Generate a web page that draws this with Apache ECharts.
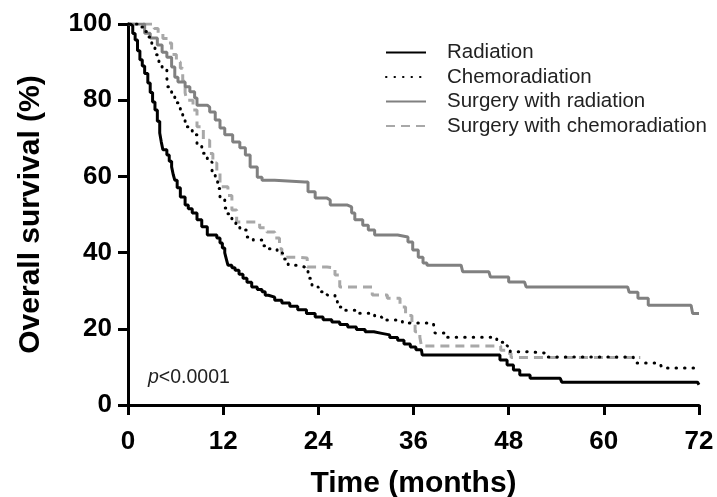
<!DOCTYPE html>
<html>
<head>
<meta charset="utf-8">
<script src="https://cdn.jsdelivr.net/npm/echarts@6/dist/echarts.min.js"></script>
<style>
html,body{margin:0;padding:0;background:#fff;}
#chart{width:717px;height:497px;}
</style>
</head>
<body>
<div id="chart"></div>
<script>
// Series names
const seriesNames = ['Radiation', 'Chemoradiation', 'Surgery with radiation', 'Surgery with chemoradiation'];
// X axis ticks (months) and Y axis ticks (%)
const xTicks = [0, 12, 24, 36, 48, 60, 72];
const yTicks = [0, 20, 40, 60, 80, 100];

// Kaplan-Meier steps: [month, survival % after the step]
const radiation = [[0,100],[0.3,99.5],[0.6,97.5],[0.9,95.8],[1.2,93],[1.5,90.6],[1.8,89],[2.1,87],[2.5,84.5],[2.8,82],[3.1,79.5],[3.4,77.4],[3.7,74.5],[4.0,71.4],[4.2,69],[4.4,67],[4.9,65.6],[5.2,64],[5.5,62.5],[5.7,60.5],[5.9,59],[6.2,57],[6.6,54.6],[7.2,52.5],[7.6,51.5],[8.1,50.4],[8.7,48.6],[9.3,46.8],[10,44.6],[11.2,43.8],[11.6,42.5],[11.9,41.2],[12.2,39.9],[12.4,38.3],[12.6,36.7],[13.1,36],[13.5,35.4],[14,34.3],[14.5,33.3],[15,32.2],[15.6,31],[16.3,30.3],[16.9,29.7],[17.3,28.8],[17.7,28.3],[18.5,27.5],[19.4,26.8],[20.4,25.9],[21.4,25],[22.5,24],[23.6,23.1],[24.6,22.4],[25.7,21.8],[26.7,21.1],[27.7,20.5],[28.8,19.8],[29.9,19.2],[31,18.8],[32,18.4],[33,17.7],[34,17],[34.8,16],[35.6,15.2],[36.3,14.5],[37,14],[37.1,13.1],[46,13.1],[46.9,11.8],[47.8,10.5],[48.6,9.2],[49.4,7.9],[50.7,7],[54.5,7],[54.7,6],[71.8,6],[72,5.3]];

const chemoradiation = [[0,100],[1.2,100],[1.6,99.2],[2.0,98],[2.5,96.6],[3.0,94],[3.4,91.9],[3.9,89.8],[4.3,87.9],[4.9,85.8],[5.0,83.5],[5.5,81.2],[5.9,79.3],[6.6,77.4],[6.9,75.2],[7.2,73],[8.1,70.9],[8.7,68.2],[9.3,66.1],[10,63.8],[10.6,60.9],[11,59],[11.3,56.8],[11.6,54.6],[12.2,51.7],[12.6,50.2],[13.1,48.6],[13.6,47.2],[14.1,45.9],[15,44.1],[15.8,43.3],[16.9,41.8],[17.8,41],[18.8,39.9],[19.5,38.3],[20.2,36.7],[21.4,36.2],[22.3,35.4],[22.7,33.3],[23.2,31],[24,29.7],[25.1,28.9],[26.1,27.6],[26.4,25.7],[27.4,24.9],[28.6,24.1],[29.9,24.1],[31.1,23.1],[32,22.3],[33.3,22.3],[34.6,21.5],[37.5,21.5],[38.5,21],[38.7,18.9],[40,17.8],[45.6,17.8],[46.5,16.5],[47.8,15.5],[48.2,14],[50.3,13.6],[52.8,12.6],[63.7,12.6],[63.9,11],[67.1,11],[67.3,9.7],[72,9.7]];

const surgeryRadiation = [[0,100],[1.7,100],[2.1,97.6],[2.8,96.3],[3.7,94.5],[4.3,92.6],[4.9,91.3],[5.5,88.7],[5.9,86],[6.3,84.8],[7.2,83.5],[7.8,82.2],[8.4,80.6],[8.7,78.7],[10,78.2],[10.3,76.9],[11,74.8],[11.6,72.7],[12.2,70.9],[13.2,69],[14.1,67.5],[14.8,65.6],[15.4,62.5],[16.3,59.8],[16.9,59],[18.5,58.5],[22.3,58.5],[22.7,56],[23.6,54.3],[25.1,53.8],[25.5,52.5],[27.6,52],[28.2,50.4],[28.6,48.6],[29.6,47.2],[30.3,45.9],[31.1,44.6],[34,44.1],[35.3,42.8],[35.9,40.7],[36.6,38.8],[37.2,37.3],[37.7,36.7],[42,36.3],[42.2,35],[45.5,35],[45.7,33.6],[47.7,33.6],[48,32.3],[50,32.3],[50.2,31],[63,31],[63.2,29.6],[64.3,28],[65.6,26.2],[71,26.2],[71.2,24],[72,24]];

const surgeryChemoradiation = [[0,100],[2.8,100],[3.3,98.8],[3.8,97.6],[4.4,96.2],[5,95],[5.5,92],[6.1,90],[6.6,88.4],[6.9,85],[7.2,82],[7.4,80],[8.2,77.4],[8.7,73],[9.5,69.5],[10.3,66],[10.7,63.5],[11.2,61],[11.6,57.3],[12.6,55],[13.1,51.2],[13.7,48],[16.2,48],[16.6,46.5],[17.5,45.4],[18.5,43.8],[19.1,41],[19.4,38.8],[21.4,38.6],[22.6,36.2],[25.1,36],[26.1,34.1],[26.7,31],[29.9,31],[30.8,28.9],[32.7,28],[34,28],[34.3,25.7],[35,23.5],[35.8,21.8],[36.2,19.2],[36.8,17.8],[37,15.5],[46.5,15.5],[47,14.4],[47.8,13.6],[48.3,12.5],[64.6,12.5]];

const pText = '{i|p}<0.0001';

const FONT = '"Liberation Sans", Arial, Helvetica, sans-serif';
const chart = echarts.init(document.getElementById('chart'), null, {renderer: 'canvas'});

const styles = [
  {color: '#000000', width: 3, type: 'solid', cap: 'butt'},
  {color: '#000000', width: 3, type: [0.5, 8], cap: 'round'},
  {color: '#808080', width: 3, type: 'solid', cap: 'butt'},
  {color: '#a8a8a8', width: 3, type: [9, 6], cap: 'butt'}
];
const datasets = [radiation, chemoradiation, surgeryRadiation, surgeryChemoradiation];

const option = {
  animation: false,
  backgroundColor: '#ffffff',
  textStyle: {fontFamily: FONT},
  title: {
    text: pText,
    left: 143,
    top: 363,
    textStyle: {
      fontFamily: FONT, fontSize: 19.5, fontWeight: 'normal', color: '#222',
      rich: {i: {fontStyle: 'italic', fontSize: 19.5, fontFamily: FONT, color: '#222'}}
    }
  },
  legend: {
    orient: 'vertical',
    left: 380,
    top: 37,
    itemWidth: 40,
    itemHeight: 14,
    itemGap: 3.5,
    data: seriesNames,
    itemStyle: {opacity: 0},
    textStyle: {fontFamily: FONT, fontSize: 20.5, color: '#222', lineHeight: 20.5, padding: [0, 0, 0, 16]}
  },
  grid: {left: 128, right: 18, top: 24, bottom: 92, containLabel: false, outerBoundsMode: 'none'},
  xAxis: {
    type: 'value',
    min: xTicks[0],
    max: xTicks[xTicks.length - 1],
    interval: 12,
    name: 'Time (months)',
    nameLocation: 'middle',
    nameGap: 64,
    nameTextStyle: {fontFamily: FONT, fontSize: 30, fontWeight: 'bold', color: '#000'},
    axisLine: {lineStyle: {color: '#000', width: 3}},
    axisTick: {show: true, length: 10, lineStyle: {color: '#000', width: 3}},
    axisLabel: {fontFamily: FONT, fontSize: 26, fontWeight: 'bold', color: '#000', margin: 24},
    splitLine: {show: false}
  },
  yAxis: {
    type: 'value',
    min: yTicks[0],
    max: yTicks[yTicks.length - 1],
    interval: 20,
    name: 'Overall survival (%)',
    nameLocation: 'middle',
    nameGap: 82,
    nameTextStyle: {fontFamily: FONT, fontSize: 30, fontWeight: 'bold', color: '#000'},
    axisLine: {show: true, lineStyle: {color: '#000', width: 3}},
    axisTick: {show: true, length: 10, lineStyle: {color: '#000', width: 3}},
    axisLabel: {fontFamily: FONT, fontSize: 26, fontWeight: 'bold', color: '#000', margin: 16},
    splitLine: {show: false}
  },
  series: seriesNames.map((n, i) => ({
    name: n,
    type: 'line',
    step: 'end',
    symbol: 'none',
    data: datasets[i],
    itemStyle: {color: styles[i].color},
    lineStyle: {color: styles[i].color, width: styles[i].width, type: styles[i].type, cap: styles[i].cap},
    z: 10 - i
  }))
};
chart.setOption(option);
</script>
</body>
</html>
